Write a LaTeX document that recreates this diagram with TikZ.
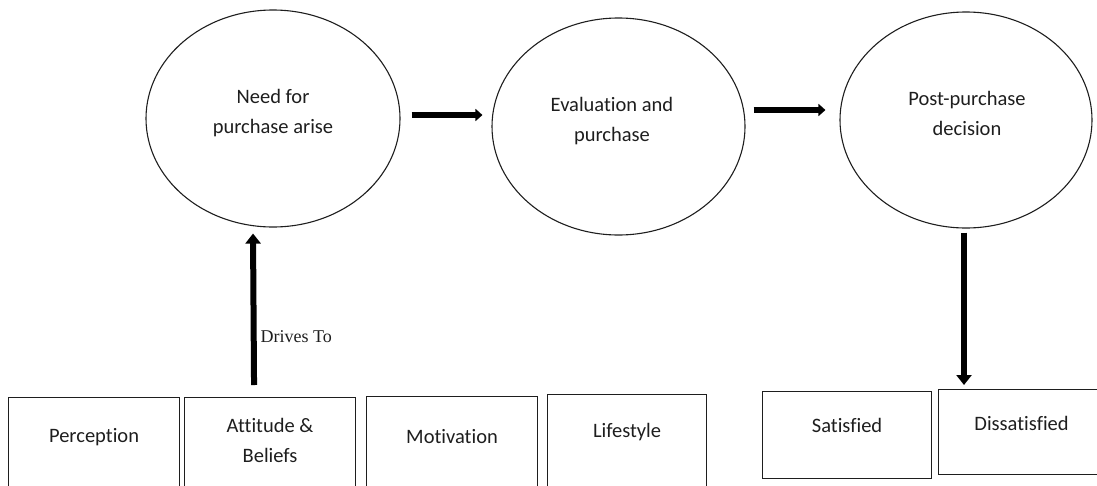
\documentclass[tikz,border=0pt]{standalone}
\usepackage{fontspec}
\setmainfont[Ligatures=NoCommon]{Carlito}
\newfontfamily\serifdrv{Liberation Serif}
\usetikzlibrary{shapes.geometric,arrows.meta}
\definecolor{ink}{HTML}{1E1E1E}
\begin{document}
\begin{tikzpicture}[x=1pt,y=-1pt,
  stage/.style={ellipse,draw=ink,line width=1.1pt,inner sep=0pt},
  factor/.style={rectangle,draw=ink,line width=1.1pt,inner sep=0pt,anchor=north west},
  txt/.style={text=ink,font=\fontsize{20.5}{30}\selectfont,align=center,inner sep=0pt},
  harrow/.style={line width=5.5pt,-{Triangle[length=7pt,width=12pt]}},
  varrow/.style={line width=6pt,-{Triangle[length=10pt,width=15pt]}}]
\useasboundingbox (0,0) rectangle (1097,485);
\clip (0,0) rectangle (1097,485);
% stages
\node[stage,minimum width=254pt,minimum height=217pt] (e1) at (273,118.5) {};
\node[stage,minimum width=253pt,minimum height=217pt] (e2) at (618.5,126.5) {};
\node[stage,minimum width=252pt,minimum height=216pt] (e3) at (966,120) {};
\node[txt] (t1) at (273,113) {Need for\\purchase arise};
\node[txt] (t2) at (612,121) {Evaluation and\\purchase};
\node[txt] (t3) at (967,113) {Post-purchase\\decision};
% factor boxes
\node[factor,minimum width=171pt,minimum height=120pt] (b1) at (8,397) {};
\node[factor,minimum width=171pt,minimum height=120pt] (b2) at (184,397) {};
\node[factor,minimum width=171pt,minimum height=120pt] (b3) at (366,396) {};
\node[factor,minimum width=159pt,minimum height=120pt] (b4) at (547,394) {};
\node[factor,minimum width=169pt,minimum height=87pt] (bs) at (762,391) {};
\node[factor,minimum width=166pt,minimum height=85pt] (bd) at (938,389) {};
\node[txt] (l1) at ([yshift=-40pt]b1.north) {Perception};
\node[txt] (l2) at ([yshift=-43pt]b2.north) {Attitude \&\\Beliefs};
\node[txt] (l3) at ([yshift=-41pt]b3.north) {Motivation};
\node[txt] (l4) at ([yshift=-38pt]b4.north) {Lifestyle};
\node[txt] (ls) at ([yshift=-34pt]bs.north) {Satisfied};
\node[txt] (ld) at ([yshift=-34pt]bd.north) {Dissatisfied};
% connectors
\draw[harrow] ([shift={(11,-3.5)}]e1.east) -- ([shift={(-9,-11.5)}]e2.west);
\draw[harrow] ([shift={(8,-16.5)}]e2.east) -- ([shift={(-14,-10)}]e3.west);
\draw[varrow] ([shift={(-16,-12)}]b2.north) -- ([shift={(-20,6)}]e1.south)
  node[pos=0.32,right=4pt,text=ink,inner sep=0pt,font=\serifdrv\fontsize{18}{20}\selectfont] (dl) {Drives To};
\draw[varrow] ([shift={(-2,4)}]e3.south) -- ([xshift=-2pt,yshift=4pt]bd.north west -| e3.south);
\end{tikzpicture}
\end{document}
